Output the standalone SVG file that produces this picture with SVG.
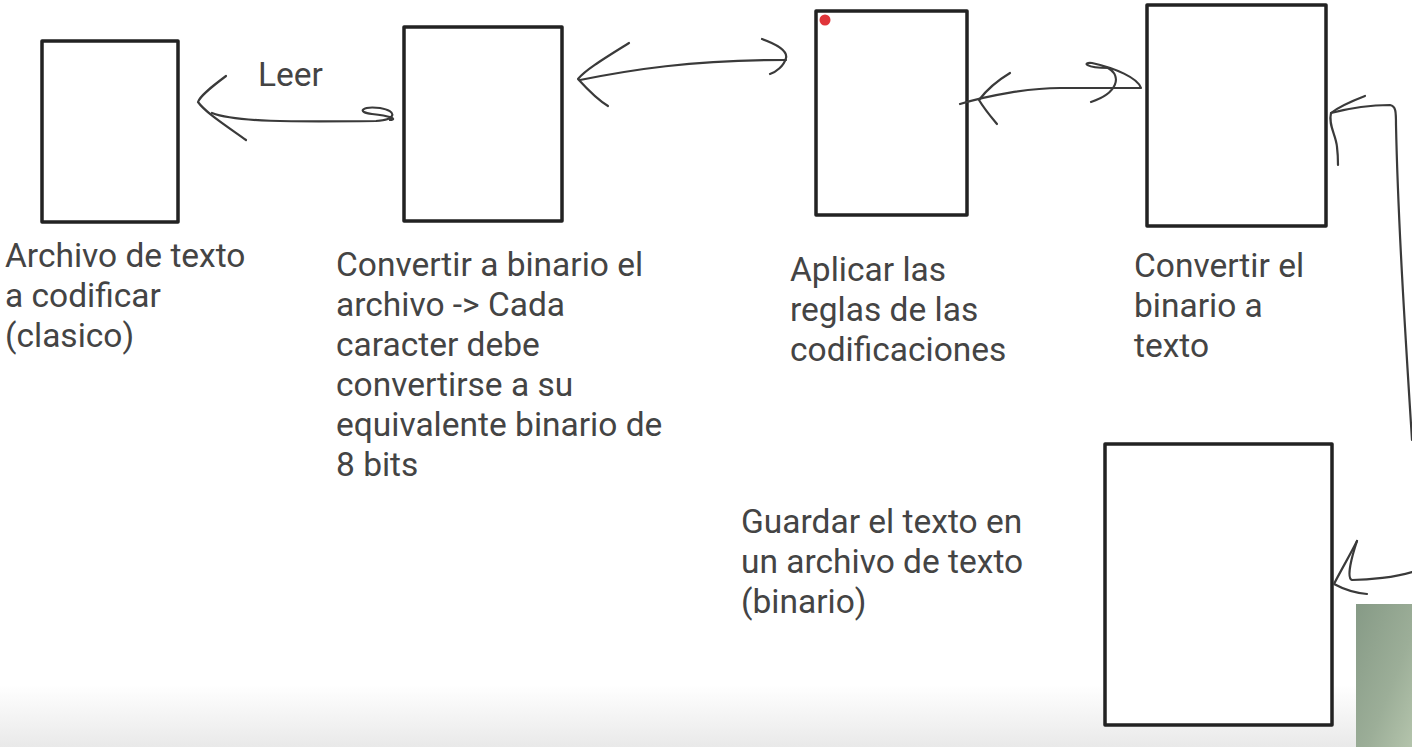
<svg xmlns="http://www.w3.org/2000/svg" width="1412" height="747" viewBox="0 0 1412 747">
<defs>
<linearGradient id="fade" x1="0" y1="0" x2="0" y2="1">
<stop offset="0" stop-color="#ffffff"/>
<stop offset="1" stop-color="#e9e9e9"/>
</linearGradient>
<linearGradient id="green" x1="0" y1="0" x2="1" y2="1">
<stop offset="0" stop-color="#869a86"/>
<stop offset="0.6" stop-color="#9cae98"/>
<stop offset="1" stop-color="#b4c4ac"/>
</linearGradient>
<style>
.box{fill:#fff;stroke:#222;stroke-width:3.5;stroke-linejoin:round}
.ink{fill:none;stroke:#3a3a3a;stroke-width:2.2;stroke-linecap:round;stroke-linejoin:round}
.lbl{font-family:Roboto,"Liberation Sans",sans-serif;font-size:33.5px;fill:#444}
</style>
</defs>
<rect width="1412" height="747" fill="#fff"/>
<rect x="0" y="685" width="1412" height="62" fill="url(#fade)"/>
<rect x="1356" y="604" width="56" height="143" fill="url(#green)"/>

<g id="n1">
<rect class="box" x="42" y="41" width="136" height="181"/>
<text class="lbl" x="5" y="267">Archivo de texto</text>
<text class="lbl" x="5" y="307">a codificar</text>
<text class="lbl" x="5" y="347">(clasico)</text>
</g>
<g id="n2">
<rect class="box" x="404" y="27" width="158" height="194"/>
<text class="lbl" x="336" y="276">Convertir a binario el</text>
<text class="lbl" x="336" y="316">archivo -&gt; Cada</text>
<text class="lbl" x="336" y="356">caracter debe</text>
<text class="lbl" x="336" y="396">convertirse a su</text>
<text class="lbl" x="336" y="436">equivalente binario de</text>
<text class="lbl" x="336" y="476">8 bits</text>
</g>
<g id="n3">
<rect class="box" x="816" y="11" width="151" height="204"/>
<circle cx="825" cy="20" r="5.5" fill="#e0353a"/>
<text class="lbl" x="790" y="281">Aplicar las</text>
<text class="lbl" x="790" y="321">reglas de las</text>
<text class="lbl" x="790" y="361">codificaciones</text>
</g>
<g id="n4">
<rect class="box" x="1147" y="5" width="179" height="221"/>
<text class="lbl" x="1134" y="277">Convertir el</text>
<text class="lbl" x="1134" y="317">binario a</text>
<text class="lbl" x="1134" y="357">texto</text>
</g>
<g id="n5">
<rect class="box" x="1105" y="444" width="227" height="281"/>
<text class="lbl" x="741" y="533">Guardar el texto en</text>
<text class="lbl" x="741" y="573">un archivo de texto</text>
<text class="lbl" x="741" y="613">(binario)</text>
</g>
<g id="edge-leer">
<text class="lbl" x="258" y="86">Leer</text>
</g>

<g id="connectors">
<!-- Leer arrow -->
<path class="ink" d="M226,76 C210,88 200,96 198,102 C205,112 225,125 246,140"/>
<path class="ink" d="M212,113 C235,122 290,122 376,121 C396,120 398,111 380,108 C362,106 356,112 372,114 C390,116 398,119 390,120"/>
<!-- box2 <-> box3 -->
<path class="ink" d="M629,43 C605,58 585,70 578,79 C588,90 598,100 608,106"/>
<path class="ink" d="M580,80 C630,70 690,60 786,60"/>
<path class="ink" d="M762,39 C776,44 788,50 786,58 C784,66 776,72 770,74"/>
<!-- box3 <-> box4 -->
<path class="ink" d="M1010,73 C995,82 985,92 979,100 C985,110 992,118 997,124"/>
<path class="ink" d="M960,104 C990,95 1030,88 1060,88 C1090,88 1120,88 1141,88 C1138,78 1115,68 1092,63 C1082,62 1085,68 1108,68 C1122,76 1118,93 1091,102"/>
<!-- box4 -> box5 (long) -->
<path class="ink" d="M1365,96 C1352,101 1340,106 1331,113 C1328,125 1336,135 1337,147 C1338,155 1338,160 1338,165"/>
<path class="ink" d="M1331,113 C1350,108 1370,105 1390,105 C1396,106 1396,112 1396,125 C1398,220 1405,330 1412,440"/>
<path class="ink" d="M1357,541 C1350,555 1340,572 1334,584 C1345,590 1356,593 1367,594"/>
<path class="ink" d="M1357,541 C1352,556 1346,578 1352,580 C1370,580 1395,577 1412,572"/>
</g>
</svg>
